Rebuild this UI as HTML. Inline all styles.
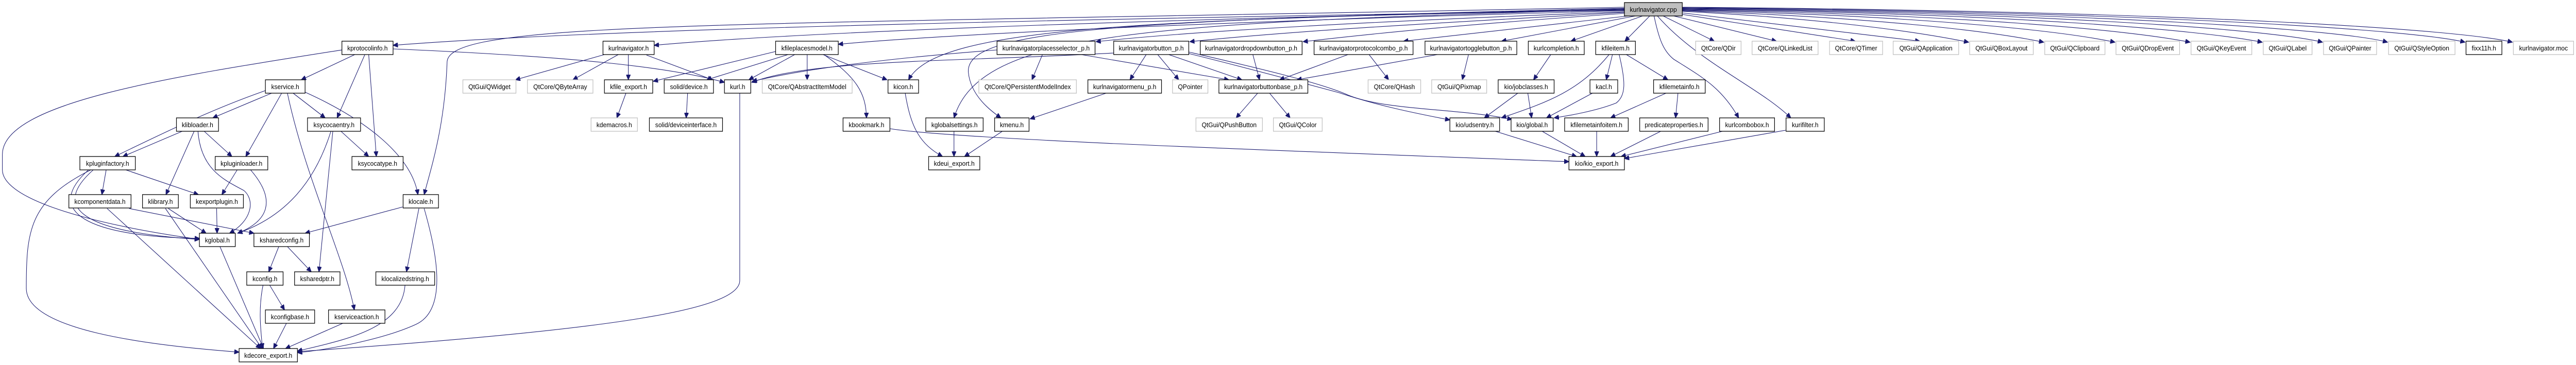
<!DOCTYPE html>
<html><head><meta charset="utf-8"><meta name="viewport" content="width=5387, initial-scale=1"><style>
html,body{margin:0;padding:0;background:#fff;width:100%;height:100%;overflow:hidden}
svg{display:block;position:absolute;left:0;top:0;width:100vw;height:100vh}
text{font-family:"Liberation Sans",sans-serif;font-size:13px;fill:#000}
.n{fill:#fff;stroke:#000;stroke-width:1.3}
.g{fill:#fff;stroke:#bfbfbf;stroke-width:1.3}
.r{fill:#bfbfbf;stroke:#000;stroke-width:1.3}
path{fill:none;stroke:#191970;stroke-width:1.1}
</style></head><body>
<svg viewBox="0 0 5387 709" preserveAspectRatio="none" xmlns="http://www.w3.org/2000/svg">
<defs><marker id="a" markerUnits="userSpaceOnUse" markerWidth="11" markerHeight="9" refX="10" refY="4.5" orient="auto"><path d="M0,0 L10,4.5 L0,9 Z" style="fill:#191970;stroke:#191970"/></marker></defs>
<g marker-end="url(#a)">
<path d="M3397 20 C2000 40,1200 60,822 88"/>
<path d="M3397 19 C2500 35,1700 60,1368 88"/>
<path d="M3397 21 C2600 40,2000 65,1753 86"/>
<path d="M3397 23 C2900 40,2500 60,2292 81"/>
<path d="M3397 24 C3000 45,2700 60,2488 81"/>
<path d="M3397 26 C3100 45,2900 62,2725 81"/>
<path d="M3405 31 L2935 80"/>
<path d="M3420 31 L3140 80"/>
<path d="M3435 31 L3285 80"/>
<path d="M3450 31 L3398 80"/>
<path d="M3478 31 L3585 80"/>
<path d="M3500 31 L3715 80"/>
<path d="M3518 28 L3880 80"/>
<path d="M3518 25 L4015 80"/>
<path d="M3518 22 C3800 35,4000 60,4117 82"/>
<path d="M3518 21 C3900 33,4150 58,4274 82"/>
<path d="M3518 20 C4000 30,4300 58,4423 82"/>
<path d="M3518 19 C4100 28,4450 58,4580 82"/>
<path d="M3518 18 C4200 26,4600 58,4731 82"/>
<path d="M3518 17 C4300 25,4750 58,4857 82"/>
<path d="M3518 16 C4400 24,4900 58,4993 82"/>
<path d="M3518 15 C4500 23,5050 58,5155 82"/>
<path d="M3518 14 C4600 22,5150 58,5254 82"/>
<path d="M3397 14 C1500 50,940 40,935 120 C930 250,900 330,887 378"/>
<path d="M3397 17 C2400 40,1960 50,1900 155"/>
<path d="M3397 18 C2400 45,2050 60,1995 229"/>
<path d="M3397 16 C2300 40,2020 60,2025 140 C2030 190,2080 220,2093 229"/>
<path d="M3459 31 C3470 80,3480 100,3500 115 C3560 150,3600 170,3636 229"/>
<path d="M3466 31 C3550 120,3680 170,3745 229"/>
<path d="M742 106 L630 155"/>
<path d="M763 106 L705 229"/>
<path d="M771 106 L787 304"/>
<path d="M715 97 C350 150,5 200,5 300 L5 330 C5 380,150 430,417 465"/>
<path d="M822 95 C1200 110,1400 130,1515 160"/>
<path d="M1264 106 L1078 155"/>
<path d="M1293 106 L1198 155"/>
<path d="M1314 106 L1314 155"/>
<path d="M1352 107 L1490 155"/>
<path d="M1309 181 L1290 229"/>
<path d="M1622 100 L1366 158"/>
<path d="M1648 106 L1478 155"/>
<path d="M1662 106 L1566 155"/>
<path d="M1688 106 L1688 155"/>
<path d="M1721 106 L1855 155"/>
<path d="M1723 106 C1790 150,1811 180,1812 229"/>
<path d="M1438 181 L1435 229"/>
<path d="M1893 181 C1905 250,1925 280,1971 304"/>
<path d="M1995 255 L1995 304"/>
<path d="M2096 255 L2017 304"/>
<path d="M1861 250 C2000 270,2600 290,3281 314"/>
<path d="M1547 181 L1547 545 C1547 600,1300 640,622 683"/>
<path d="M2085 97 C1900 110,1700 130,1573 158"/>
<path d="M2180 106 L2158 155"/>
<path d="M2261 106 L2570 155"/>
<path d="M2329 103 C2000 120,1700 115,1572 160"/>
<path d="M2397 106 L2363 155"/>
<path d="M2421 106 L2465 155"/>
<path d="M2444 106 L2597 155"/>
<path d="M2486 104 C2600 130,2720 160,2800 180 C2880 205,2960 220,3032 233"/>
<path d="M2486 101 C2620 130,2760 160,2820 185 C2900 215,3050 210,3162 232"/>
<path d="M2313 181 L2154 231"/>
<path d="M2620 106 L2634 155"/>
<path d="M2819 106 L2676 155"/>
<path d="M2863 106 L2904 155"/>
<path d="M3006 106 L2712 155"/>
<path d="M3071 106 L3058 155"/>
<path d="M2630 181 L2585 229"/>
<path d="M2655 181 L2698 229"/>
<path d="M3243 106 L3207 155"/>
<path d="M3174 181 L3104 229"/>
<path d="M3195 181 L3203 229"/>
<path d="M3365 106 C3300 180,3230 200,3140 229"/>
<path d="M3372 106 L3359 155"/>
<path d="M3386 106 C3400 160,3400 185,3380 200 C3340 215,3280 225,3250 229"/>
<path d="M3401 106 L3488 155"/>
<path d="M3330 181 L3234 229"/>
<path d="M3484 181 L3368 229"/>
<path d="M3509 181 L3504 229"/>
<path d="M3127 255 L3297 304"/>
<path d="M3225 255 L3315 304"/>
<path d="M3339 255 L3339 304"/>
<path d="M3473 255 L3368 304"/>
<path d="M3602 255 L3390 304"/>
<path d="M3734 253 L3397 308"/>
<path d="M568 181 L445 229"/>
<path d="M555 176 C450 210,360 250,240 304"/>
<path d="M589 181 L514 304"/>
<path d="M613 181 L680 229"/>
<path d="M601 181 C640 350,720 500,741 602"/>
<path d="M638 179 C760 230,860 300,874 378"/>
<path d="M381 255 L257 304"/>
<path d="M406 255 L347 378"/>
<path d="M427 255 L485 304"/>
<path d="M414 255 C420 330,470 350,510 370 C535 390,525 430,480 453"/>
<path d="M713 255 L771 304"/>
<path d="M692 255 C660 350,600 420,497 453"/>
<path d="M696 255 L667 528"/>
<path d="M222 330 L213 378"/>
<path d="M263 330 L415 378"/>
<path d="M195 330 C110 400,160 450,417 465"/>
<path d="M185 330 C90 410,180 460,417 463"/>
<path d="M190 330 C60 390,55 450,55 560 C55 640,300 670,500 684"/>
<path d="M496 330 L464 378"/>
<path d="M524 330 C580 390,560 430,497 453"/>
<path d="M270 405 L531 453"/>
<path d="M224 405 L545 677"/>
<path d="M352 405 L431 453"/>
<path d="M346 405 L548 677"/>
<path d="M453 405 L454 453"/>
<path d="M842 402 L638 453"/>
<path d="M876 405 L850 528"/>
<path d="M887 405 C910 480,940 600,870 630 C800 660,680 680,622 685"/>
<path d="M460 479 L551 677"/>
<path d="M583 479 L562 528"/>
<path d="M601 479 L651 528"/>
<path d="M564 554 L595 602"/>
<path d="M550 554 C540 600,545 640,549 677"/>
<path d="M599 628 L572 677"/>
<path d="M717 628 L597 677"/>
<path d="M847 554 C840 640,720 660,622 682"/>
</g>
<g>
<rect class="r" x="3397" y="5" width="121" height="26"/><text x="3457.5" y="23" text-anchor="middle">kurlnavigator.cpp</text>
<rect class="n" x="715" y="80" width="107" height="26"/><text x="768.5" y="98" text-anchor="middle">kprotocolinfo.h</text>
<rect class="n" x="1261" y="80" width="107" height="26"/><text x="1314.5" y="98" text-anchor="middle">kurlnavigator.h</text>
<rect class="n" x="1622" y="80" width="131" height="26"/><text x="1687.5" y="98" text-anchor="middle">kfileplacesmodel.h</text>
<rect class="n" x="2085" y="80" width="205" height="26"/><text x="2187.5" y="98" text-anchor="middle">kurlnavigatorplacesselector_p.h</text>
<rect class="n" x="2329" y="80" width="157" height="26"/><text x="2407.5" y="98" text-anchor="middle">kurlnavigatorbutton_p.h</text>
<rect class="n" x="2510" y="80" width="213" height="26"/><text x="2616.5" y="98" text-anchor="middle">kurlnavigatordropdownbutton_p.h</text>
<rect class="n" x="2748" y="80" width="207" height="26"/><text x="2851.5" y="98" text-anchor="middle">kurlnavigatorprotocolcombo_p.h</text>
<rect class="n" x="2980" y="80" width="192" height="26"/><text x="3076" y="98" text-anchor="middle">kurlnavigatortogglebutton_p.h</text>
<rect class="n" x="3196" y="80" width="117" height="26"/><text x="3254.5" y="98" text-anchor="middle">kurlcompletion.h</text>
<rect class="n" x="3337" y="80" width="83" height="26"/><text x="3378.5" y="98" text-anchor="middle">kfileitem.h</text>
<rect class="g" x="3546" y="80" width="95" height="26"/><text x="3593.5" y="98" text-anchor="middle">QtCore/QDir</text>
<rect class="g" x="3664" y="80" width="138" height="26"/><text x="3733" y="98" text-anchor="middle">QtCore/QLinkedList</text>
<rect class="g" x="3826" y="80" width="111" height="26"/><text x="3881.5" y="98" text-anchor="middle">QtCore/QTimer</text>
<rect class="g" x="3959" y="80" width="137" height="26"/><text x="4027.5" y="98" text-anchor="middle">QtGui/QApplication</text>
<rect class="g" x="4119" y="80" width="133" height="26"/><text x="4185.5" y="98" text-anchor="middle">QtGui/QBoxLayout</text>
<rect class="g" x="4276" y="80" width="126" height="26"/><text x="4339" y="98" text-anchor="middle">QtGui/QClipboard</text>
<rect class="g" x="4425" y="80" width="133" height="26"/><text x="4491.5" y="98" text-anchor="middle">QtGui/QDropEvent</text>
<rect class="g" x="4582" y="80" width="127" height="26"/><text x="4645.5" y="98" text-anchor="middle">QtGui/QKeyEvent</text>
<rect class="g" x="4733" y="80" width="102" height="26"/><text x="4784" y="98" text-anchor="middle">QtGui/QLabel</text>
<rect class="g" x="4859" y="80" width="111" height="26"/><text x="4914.5" y="98" text-anchor="middle">QtGui/QPainter</text>
<rect class="g" x="4995" y="80" width="139" height="26"/><text x="5064.5" y="98" text-anchor="middle">QtGui/QStyleOption</text>
<rect class="n" x="5157" y="80" width="75" height="26"/><text x="5194.5" y="98" text-anchor="middle">fixx11h.h</text>
<rect class="g" x="5256" y="80" width="126" height="26"/><text x="5319" y="98" text-anchor="middle">kurlnavigator.moc</text>
<rect class="n" x="555" y="155" width="83" height="26"/><text x="596.5" y="173" text-anchor="middle">kservice.h</text>
<rect class="g" x="968" y="155" width="111" height="26"/><text x="1023.5" y="173" text-anchor="middle">QtGui/QWidget</text>
<rect class="g" x="1103" y="155" width="137" height="26"/><text x="1171.5" y="173" text-anchor="middle">QtCore/QByteArray</text>
<rect class="n" x="1264" y="155" width="101" height="26"/><text x="1314.5" y="173" text-anchor="middle">kfile_export.h</text>
<rect class="n" x="1389" y="155" width="103" height="26"/><text x="1440.5" y="173" text-anchor="middle">solid/device.h</text>
<rect class="n" x="1515" y="155" width="55" height="26"/><text x="1542.5" y="173" text-anchor="middle">kurl.h</text>
<rect class="g" x="1594" y="155" width="188" height="26"/><text x="1688" y="173" text-anchor="middle">QtCore/QAbstractItemModel</text>
<rect class="n" x="1857" y="155" width="64" height="26"/><text x="1889" y="173" text-anchor="middle">kicon.h</text>
<rect class="g" x="2047" y="155" width="204" height="26"/><text x="2149" y="173" text-anchor="middle">QtCore/QPersistentModelIndex</text>
<rect class="n" x="2275" y="155" width="154" height="26"/><text x="2352" y="173" text-anchor="middle">kurlnavigatormenu_p.h</text>
<rect class="g" x="2452" y="155" width="74" height="26"/><text x="2489" y="173" text-anchor="middle">QPointer</text>
<rect class="n" x="2549" y="155" width="186" height="26"/><text x="2642" y="173" text-anchor="middle">kurlnavigatorbuttonbase_p.h</text>
<rect class="g" x="2861" y="155" width="110" height="26"/><text x="2916" y="173" text-anchor="middle">QtCore/QHash</text>
<rect class="g" x="2994" y="155" width="115" height="26"/><text x="3051.5" y="173" text-anchor="middle">QtGui/QPixmap</text>
<rect class="n" x="3133" y="155" width="117" height="26"/><text x="3191.5" y="173" text-anchor="middle">kio/jobclasses.h</text>
<rect class="n" x="3325" y="155" width="58" height="26"/><text x="3354" y="173" text-anchor="middle">kacl.h</text>
<rect class="n" x="3458" y="155" width="108" height="26"/><text x="3512" y="173" text-anchor="middle">kfilemetainfo.h</text>
<rect class="n" x="369" y="229" width="88" height="26"/><text x="413" y="247" text-anchor="middle">klibloader.h</text>
<rect class="n" x="643" y="229" width="111" height="26"/><text x="698.5" y="247" text-anchor="middle">ksycocaentry.h</text>
<rect class="g" x="1236" y="229" width="97" height="26"/><text x="1284.5" y="247" text-anchor="middle">kdemacros.h</text>
<rect class="n" x="1358" y="229" width="153" height="26"/><text x="1434.5" y="247" text-anchor="middle">solid/deviceinterface.h</text>
<rect class="n" x="1763" y="229" width="98" height="26"/><text x="1812" y="247" text-anchor="middle">kbookmark.h</text>
<rect class="n" x="1936" y="229" width="120" height="26"/><text x="1996" y="247" text-anchor="middle">kglobalsettings.h</text>
<rect class="n" x="2080" y="229" width="72" height="26"/><text x="2116" y="247" text-anchor="middle">kmenu.h</text>
<rect class="g" x="2501" y="229" width="139" height="26"/><text x="2570.5" y="247" text-anchor="middle">QtGui/QPushButton</text>
<rect class="g" x="2663" y="229" width="102" height="26"/><text x="2714" y="247" text-anchor="middle">QtGui/QColor</text>
<rect class="n" x="3032" y="229" width="104" height="26"/><text x="3084" y="247" text-anchor="middle">kio/udsentry.h</text>
<rect class="n" x="3160" y="229" width="88" height="26"/><text x="3204" y="247" text-anchor="middle">kio/global.h</text>
<rect class="n" x="3272" y="229" width="133" height="26"/><text x="3338.5" y="247" text-anchor="middle">kfilemetainfoitem.h</text>
<rect class="n" x="3429" y="229" width="143" height="26"/><text x="3500.5" y="247" text-anchor="middle">predicateproperties.h</text>
<rect class="n" x="3596" y="229" width="115" height="26"/><text x="3653.5" y="247" text-anchor="middle">kurlcombobox.h</text>
<rect class="n" x="3735" y="229" width="80" height="26"/><text x="3775" y="247" text-anchor="middle">kurifilter.h</text>
<rect class="n" x="167" y="304" width="116" height="26"/><text x="225" y="322" text-anchor="middle">kpluginfactory.h</text>
<rect class="n" x="450" y="304" width="110" height="26"/><text x="505" y="322" text-anchor="middle">kpluginloader.h</text>
<rect class="n" x="736" y="304" width="107" height="26"/><text x="789.5" y="322" text-anchor="middle">ksycocatype.h</text>
<rect class="n" x="1942" y="304" width="107" height="26"/><text x="1995.5" y="322" text-anchor="middle">kdeui_export.h</text>
<rect class="n" x="3281" y="304" width="116" height="26"/><text x="3339" y="322" text-anchor="middle">kio/kio_export.h</text>
<rect class="n" x="144" y="378" width="130" height="26"/><text x="209" y="396" text-anchor="middle">kcomponentdata.h</text>
<rect class="n" x="298" y="378" width="75" height="26"/><text x="335.5" y="396" text-anchor="middle">klibrary.h</text>
<rect class="n" x="398" y="378" width="111" height="26"/><text x="453.5" y="396" text-anchor="middle">kexportplugin.h</text>
<rect class="n" x="843" y="378" width="74" height="26"/><text x="880" y="396" text-anchor="middle">klocale.h</text>
<rect class="n" x="417" y="453" width="75" height="26"/><text x="454.5" y="471" text-anchor="middle">kglobal.h</text>
<rect class="n" x="531" y="453" width="116" height="26"/><text x="589" y="471" text-anchor="middle">ksharedconfig.h</text>
<rect class="n" x="516" y="528" width="76" height="26"/><text x="554" y="546" text-anchor="middle">kconfig.h</text>
<rect class="n" x="616" y="528" width="95" height="26"/><text x="663.5" y="546" text-anchor="middle">ksharedptr.h</text>
<rect class="n" x="786" y="528" width="123" height="26"/><text x="847.5" y="546" text-anchor="middle">klocalizedstring.h</text>
<rect class="n" x="555" y="602" width="103" height="26"/><text x="606.5" y="620" text-anchor="middle">kconfigbase.h</text>
<rect class="n" x="687" y="602" width="118" height="26"/><text x="746" y="620" text-anchor="middle">kserviceaction.h</text>
<rect class="n" x="500" y="677" width="122" height="26"/><text x="561" y="695" text-anchor="middle">kdecore_export.h</text>
</g>
</svg>
</body></html>
